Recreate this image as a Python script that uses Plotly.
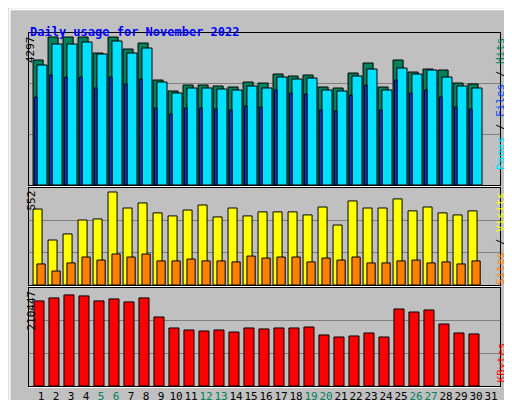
import plotly.graph_objects as go

days = list(range(1, 32))
day_labels = [str(d) for d in days]
weekend_days = [5, 6, 12, 13, 19, 20, 26, 27]

hits = [3629, 4297, 4297, 4297, 3832, 4297, 3948, 4122, 3048, 2729, 2903, 2903, 2874, 2845, 2990,
        2961, 3222, 3164, 3193, 2845, 2816, 3251, 3542, 2845, 3629, 3280, 3367, 3338, 2961, 2932]
files = [3484, 4093, 4093, 4151, 3803, 4180, 3832, 3977, 2990, 2671, 2816, 2816, 2787, 2758, 2874,
         2816, 3135, 3077, 3106, 2758, 2729, 3164, 3367, 2758, 3396, 3222, 3338, 3135, 2874, 2816]
pages = [2555, 3193, 3135, 3135, 2816, 3135, 2932, 3077, 2235, 2061, 2235, 2235, 2206, 2177, 2293,
         2264, 2758, 2670, 2640, 2177, 2148, 2610, 2900, 2177, 3050, 2670, 2758, 2555, 2264, 2206]
visits = [451, 267, 303, 386, 392, 552, 457, 487, 428, 410, 445, 475, 404, 457, 410,
          434, 434, 434, 416, 463, 356, 499, 457, 457, 511, 440, 463, 428, 416, 440]
sites = [125, 83, 131, 166, 148, 184, 166, 184, 143, 143, 154, 143, 143, 137, 172,
         160, 166, 166, 137, 160, 148, 166, 131, 131, 143, 148, 131, 137, 125, 143]
kbytes = [190500, 197200, 203900, 201700, 190500, 194900, 188200, 197200, 154500, 129900,
          125400, 123200, 125400, 120900, 129900, 127700, 129900, 129900, 132100, 114200,
          109700, 112000, 118700, 109700, 172400, 165700, 170200, 138800, 118700, 116500]

max_hits, max_visits, max_kb = 4297, 552, 210447

GRAY = "#C0C0C0"
fig = go.Figure()


def bars(y, color, off, width, n):
    fig.add_trace(go.Bar(x=days[:len(y)], y=y, offset=off, width=width, marker_color=color,
                         marker_line_color="black", marker_line_width=1,
                         xaxis="x" + n, yaxis="y" + n, hoverinfo="skip"))


bars(hits, "#00805C", -0.53, 0.67, "")
bars(files, "#00E0FF", -0.27, 0.67, "")
bars(pages, "#0040FF", -0.42, 0.16, "")
bars(visits, "#FFFF00", -0.53, 0.6, "2")
bars(sites, "#FF8000", -0.27, 0.55, "2")
bars(kbytes, "#FF0000", -0.47, 0.67, "3")

ticktext = [f"<span style='color:#00805C'>{t}</span>" if d in weekend_days else t
            for d, t in zip(days, day_labels)]

x0, x1 = 21 / 512, 492 / 512
panels = [("", 177, 25, max_hits * 152 / 148),
          ("2", 277, 180, max_visits * 97 / 93),
          ("3", 378, 280, max_kb * 98 / 94)]
axes = {}
for n, bot, top, ymax in panels:
    axes["yaxis" + n] = dict(domain=[1 - bot / 400, 1 - top / 400], range=[0, ymax],
                             tickvals=[ymax / 3, 2 * ymax / 3], showticklabels=False,
                             showgrid=True, gridcolor="#808080", zeroline=False,
                             showline=True, linecolor="black", mirror=True, ticks="",
                             anchor="x" + n)
    axes["xaxis" + n] = dict(domain=[x0, x1], range=[0.2, 31.6], showgrid=False, zeroline=False,
                             showline=True, linecolor="black", mirror=True, ticks="",
                             anchor="y" + n, showticklabels=(n == "3"), tickvals=days,
                             ticktext=ticktext, tickangle=0, ticklen=0)

fig.update_layout(
    width=512, height=400, margin=dict(l=0, r=0, t=0, b=0), autosize=False,
    paper_bgcolor=GRAY, plot_bgcolor=GRAY, barmode="overlay", showlegend=False,
    font=dict(family="DejaVu Sans Mono", size=11, color="black"),
    **axes,
)

# light line under each panel
for _, bot, _, _ in panels:
    fig.add_shape(type="line", xref="paper", yref="paper", x0=x0, x1=x1,
                  y0=1 - (bot + 1.5) / 400, y1=1 - (bot + 1.5) / 400,
                  line=dict(color="white", width=1))
# outer bevel
fig.add_shape(type="rect", xref="paper", yref="paper", x0=0.003, x1=0.995, y0=0.008, y1=0.997,
              line=dict(color="white", width=2))
fig.add_shape(type="line", xref="paper", yref="paper", x0=0, x1=1, y0=0.004, y1=0.004,
              line=dict(color="#808080", width=4))
fig.add_shape(type="line", xref="paper", yref="paper", x0=0.996, x1=0.996, y0=0, y1=1,
              line=dict(color="#808080", width=4))

ann = [
    dict(x=20 / 512, y=1 - 15 / 400, text="<b>Daily usage for November 2022</b>", xanchor="left",
         font=dict(color="#0000FF", size=12)),
    dict(x=14 / 512, y=1 - 26 / 400, text="4297", textangle=-90, yanchor="top"),
    dict(x=14 / 512, y=1 - 181 / 400, text="552", textangle=-90, yanchor="top"),
    dict(x=14 / 512, y=1 - 281 / 400, text="210447", textangle=-90, yanchor="top"),
    dict(x=501 / 512, y=1 - 27 / 400, textangle=-90, yanchor="top",
         text="<span style='color:#00E0FF'>Pages</span> / <span style='color:#0040FF'>Files</span>"
              " / <span style='color:#00805C'>Hits</span>"),
    dict(x=501 / 512, y=1 - 182 / 400, textangle=-90, yanchor="top",
         text="<span style='color:#FF8000'>Sites</span> / <span style='color:#FFFF00'>Visits</span>"),
    dict(x=501 / 512, y=1 - 377 / 400, textangle=-90, yanchor="bottom",
         text="<span style='color:#FF0000'>KBytes</span>"),
]
for a in ann:
    fig.add_annotation(xref="paper", yref="paper", showarrow=False, **a)

fig.write_html("out.html")
